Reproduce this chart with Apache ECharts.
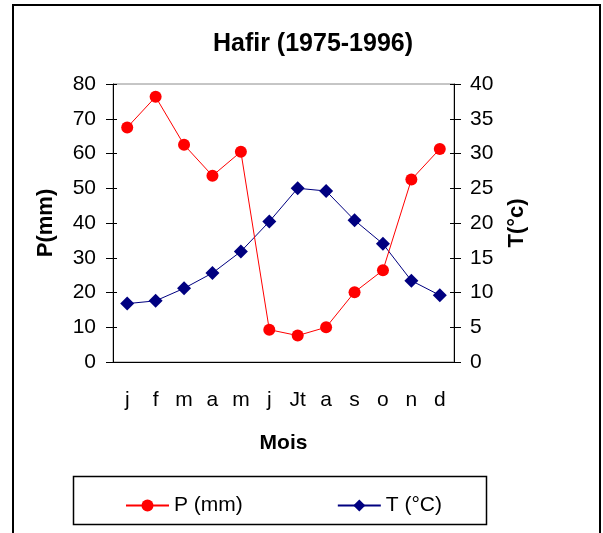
<!DOCTYPE html>
<html lang="fr">
<head>
<meta charset="UTF-8" />
<style>
  html, body { margin: 0; padding: 0; background: #fff; }
  #main { width: 603px; height: 533px; }
</style>
</head>
<body>
<div id="main"></div>
<script src="https://cdn.jsdelivr.net/npm/echarts@6/dist/echarts.min.js"></script>
<script>
var months = ['j', 'f', 'm', 'a', 'm', 'j', 'Jt', 'a', 's', 'o', 'n', 'd'];
var precip = [67.5, 76.3, 62.5, 53.6, 60.5, 9.3, 7.6, 10.0, 20.1, 26.4, 52.5, 61.3];
var temp = [8.4, 8.8, 10.6, 12.8, 15.9, 20.2, 25.0, 24.6, 20.4, 17.0, 11.7, 9.6];
var pTicks = { min: 0, max: 80, interval: 10 };
var tTicks = { min: 0, max: 40, interval: 5 };

var FONT = 'Liberation Sans, Arial, sans-serif';
var plot = { left: 113, right: 149, top: 84, bottom: 171 };

var myChart = echarts.init(document.getElementById('main'));

// second grid only carries the inner half of the tick marks
var option = {
  animation: false,
  backgroundColor: '#fff',
  textStyle: { fontFamily: FONT, color: '#000' },
  title: {
    text: 'Hafir (1975-1996)',
    left: 308, top: 27, textAlign: 'center',
    textStyle: { fontFamily: FONT, fontSize: 25, fontWeight: 'bold', color: '#000' }
  },
  grid: [
    { left: plot.left, right: plot.right, top: plot.top, bottom: plot.bottom,
      show: true, borderColor: '#8c8c8c', borderWidth: 1, backgroundColor: 'transparent' },
    { left: plot.left, right: plot.right, top: plot.top, bottom: plot.bottom }
  ],
  legend: {
    data: ['P (mm)', 'T (°C)'],
    left: 120, top: 490,
    itemWidth: 43, itemHeight: 15, itemGap: 94,
    textStyle: { fontFamily: FONT, fontSize: 21, color: '#000' }
  },
  graphic: [
    { type: 'rect', shape: { x: 13, y: 5, width: 587, height: 545 },
      style: { fill: 'none', stroke: '#000', lineWidth: 2 }, silent: true },
    { type: 'rect', shape: { x: 73.5, y: 476.5, width: 413, height: 48 },
      style: { fill: 'none', stroke: '#000', lineWidth: 1.5 }, silent: true }
  ],
  xAxis: [
    {
      gridIndex: 0, type: 'category', data: months, boundaryGap: true,
      name: 'Mois', nameLocation: 'middle', nameGap: 71,
      nameTextStyle: { fontFamily: FONT, fontSize: 21, fontWeight: 'bold', color: '#000' },
      axisLine: { lineStyle: { color: '#000', width: 1 } },
      axisTick: { length: 8, alignWithLabel: false, lineStyle: { color: '#000' } },
      axisLabel: { margin: 28, fontFamily: FONT, fontSize: 21, color: '#000' },
      splitLine: { show: false }
    },
    {
      gridIndex: 1, type: 'category', data: months, boundaryGap: true,
      axisLine: { show: false },
      axisTick: { inside: true, length: 7, lineStyle: { color: '#000' } },
      axisLabel: { show: false },
      splitLine: { show: false }
    }
  ],
  yAxis: [
    {
      gridIndex: 0, type: 'value', position: 'left',
      min: pTicks.min, max: pTicks.max, interval: pTicks.interval,
      name: 'P(mm)', nameLocation: 'middle', nameGap: 56,
      nameTextStyle: { fontFamily: FONT, fontSize: 22, fontWeight: 'bold', color: '#000' },
      axisLine: { show: true, lineStyle: { color: '#000', width: 1 } },
      axisTick: { show: true, length: 7, lineStyle: { color: '#000' } },
      axisLabel: { margin: 17, fontFamily: FONT, fontSize: 21, color: '#000' },
      splitLine: { show: false }
    },
    {
      gridIndex: 0, type: 'value', position: 'right',
      min: tTicks.min, max: tTicks.max, interval: tTicks.interval,
      name: 'T(°c)', nameLocation: 'middle', nameGap: 52,
      nameTextStyle: { fontFamily: FONT, fontSize: 22, fontWeight: 'bold', color: '#000' },
      axisLine: { show: true, lineStyle: { color: '#000', width: 1 } },
      axisTick: { show: true, length: 7, lineStyle: { color: '#000' } },
      axisLabel: { margin: 16, fontFamily: FONT, fontSize: 21, color: '#000' },
      splitLine: { show: false }
    },
    {
      gridIndex: 1, type: 'value', position: 'left',
      min: pTicks.min, max: pTicks.max, interval: pTicks.interval,
      axisLine: { show: false },
      axisTick: { show: true, inside: true, length: 4, lineStyle: { color: '#000' } },
      axisLabel: { show: false },
      splitLine: { show: false }
    },
    {
      gridIndex: 1, type: 'value', position: 'right',
      min: tTicks.min, max: tTicks.max, interval: tTicks.interval,
      axisLine: { show: false },
      axisTick: { show: true, inside: true, length: 4, lineStyle: { color: '#000' } },
      axisLabel: { show: false },
      splitLine: { show: false }
    }
  ],
  series: [
    {
      name: 'T (°C)', type: 'line', xAxisIndex: 0, yAxisIndex: 1,
      data: temp, symbol: 'diamond', symbolSize: 14,
      itemStyle: { color: '#000080' },
      lineStyle: { color: '#000080', width: 1 }
    },
    {
      name: 'P (mm)', type: 'line', xAxisIndex: 0, yAxisIndex: 0,
      data: precip, symbol: 'circle', symbolSize: 12,
      itemStyle: { color: '#ff0000' },
      lineStyle: { color: '#ff0000', width: 1 }
    }
  ]
};

myChart.setOption(option);
</script>
</body>
</html>
